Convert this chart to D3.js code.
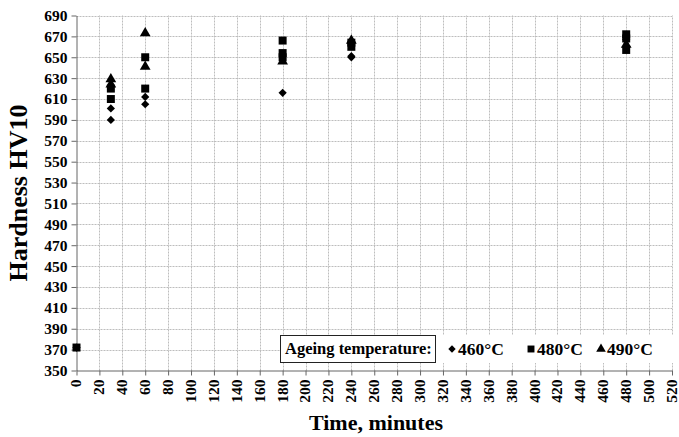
<!DOCTYPE html>
<html>
<head>
<meta charset="utf-8">
<script src="https://cdn.jsdelivr.net/npm/d3@7"></script>
<style>
body { margin: 0; background: #fff; }
text { font-family: "Liberation Serif", "DejaVu Serif", serif; font-weight: bold; }
</style>
</head>
<body>
<div id="graph"></div>
<script>
// data
var seriesNames = ["460°C", "480°C", "490°C"];
var t460 = [0, 30, 30, 60, 60, 180, 240, 240, 480];
var hv460 = [372, 601, 590, 612, 605, 616, 651, 650, 667];
var t480 = [0, 30, 30, 60, 60, 180, 180, 180, 240, 240, 480, 480, 480];
var hv480 = [372, 620, 610, 650, 620, 666, 654, 650, 664, 660, 672, 668, 657];
var t490 = [30, 30, 60, 60, 180, 240, 480];
var hv490 = [629, 624, 673, 641, 646, 666, 662];
var xTicks = d3.range(0, 521, 20);
var yTicks = d3.range(350, 691, 20);

var width = 679, height = 437;
var margin = {top: 15.5, right: 7, bottom: 66.5, left: 76.5};

var svg = d3.select('#graph').append('svg')
	.attr('width', width).attr('height', height);

var x = d3.scaleLinear().domain([0, 520]).range([margin.left, width - margin.right]);
var y = d3.scaleLinear().domain([350, 690]).range([height - margin.bottom, margin.top]);

// grid
var grid = svg.append('g').attr('stroke', '#bdbdbd').attr('stroke-width', 1).attr('stroke-dasharray', '2,1');
grid.selectAll('.gx').data(xTicks.slice(1)).enter().append('line')
	.attr('x1', d => Math.round(x(d)) + 0.5).attr('x2', d => Math.round(x(d)) + 0.5)
	.attr('y1', y(350)).attr('y2', y(690));
grid.selectAll('.gy').data(yTicks.slice(1)).enter().append('line')
	.attr('y1', d => Math.round(y(d)) + 0.5).attr('y2', d => Math.round(y(d)) + 0.5)
	.attr('x1', x(0)).attr('x2', x(520));

// axes
var yAxis = svg.append('g').attr('transform', `translate(${x(0)},0)`)
	.call(d3.axisLeft(y).tickValues(yTicks).tickSize(5).tickSizeOuter(0).tickPadding(4));
var xAxis = svg.append('g').attr('transform', `translate(0,${y(350)})`)
	.call(d3.axisBottom(x).tickValues(xTicks).tickSize(5).tickSizeOuter(0));
[xAxis, yAxis].forEach(function(a){
	a.select('.domain').attr('stroke', '#666');
	a.selectAll('.tick line').attr('stroke', '#666');
	a.selectAll('text').attr('fill', '#000').style('font-size', '15.5px')
		.style('font-family', '"Liberation Serif", serif').style('font-weight', 'bold');
});
xAxis.selectAll('text')
	.attr('transform', 'rotate(-90)')
	.attr('text-anchor', 'end')
	.attr('x', -9).attr('y', -1).attr('dy', '0.35em');

// axis titles
svg.append('text').attr('x', 376).attr('y', 430).attr('text-anchor', 'middle')
	.style('font-size', '22px').text('Time, minutes');
svg.append('text').attr('transform', `translate(27,${(y(350) + y(690)) / 2}) rotate(-90)`)
	.attr('text-anchor', 'middle').style('font-size', '26px').text('Hardness HV10');

// legend
var leg = svg.append('g');
leg.append('rect').attr('x', 436).attr('y', 335).attr('width', 243).attr('height', 28).attr('fill', '#fff');
leg.append('rect').attr('x', 280.5).attr('y', 335.5).attr('width', 155).attr('height', 27)
	.attr('fill', '#fff').attr('stroke', '#222').attr('stroke-width', 1);
leg.append('text').attr('x', 285).attr('y', 354).style('font-size', '16.5px').text('Ageing temperature:');

var symbols = [
	{shape: d3.symbolSquare, size: 34, rot: 45},
	{shape: d3.symbolSquare, size: 64, rot: 0},
	{shape: d3.symbolTriangle, size: 50, rot: 0}
];
var legX = [452, 531, 601];
seriesNames.forEach(function(n, i){
	leg.append('path').attr('d', d3.symbol(symbols[i].shape, symbols[i].size * (i == 1 ? 0.75 : 0.8))())
		.attr('transform', `translate(${legX[i]},349) rotate(${symbols[i].rot})`).attr('fill', '#000');
	leg.append('text').attr('x', legX[i] + 6).attr('y', 355).style('font-size', '17.5px').text(n);
});

// points
var sets = [[t460, hv460], [t480, hv480], [t490, hv490]];
sets.forEach(function(s, i){
	svg.append('g').selectAll('path').data(d3.range(s[0].length)).enter().append('path')
		.attr('d', d3.symbol(symbols[i].shape, symbols[i].size)())
		.attr('transform', j => `translate(${x(s[0][j])},${y(s[1][j])}) rotate(${symbols[i].rot})`)
		.attr('fill', '#000');
});
</script>
</body>
</html>
